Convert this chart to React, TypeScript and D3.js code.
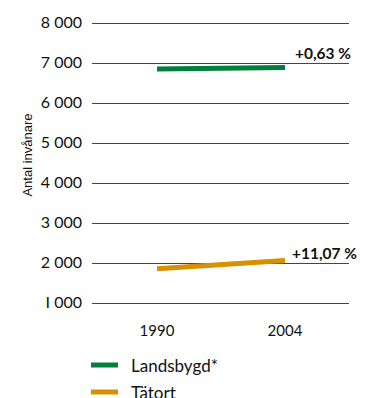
import { useEffect, useRef } from 'react'
import * as d3 from 'd3'

const years = ['1990', '2004']
const landsbygd = [6860, 6903]
const tatort = [1868, 2075]
const changeLabels = ['+0,63 %', '+11,07 %']
const seriesNames = ['Landsbygd*', 'Tätort']
const yTicks = [1000, 2000, 3000, 4000, 5000, 6000, 7000, 8000]

const COLORS = ['#00803d', '#d69000']

export default function App() {
  const svgRef = useRef<SVGSVGElement>(null)

  useEffect(() => {
    if (!svgRef.current) return
    const width = 369
    const height = 398
    const svg = d3.select(svgRef.current)
    svg.selectAll('*').remove()

    const x = d3.scalePoint<string>().domain(years).range([157, 285])
    const y = d3.scaleLinear().domain([1000, 8000]).range([303.5, 23.5])
    const gridLeft = 92
    const gridRight = 349
    const tickFont = "'Lato', 'DejaVu Sans', sans-serif"

    // gridlines
    svg.append('g')
      .selectAll('line')
      .data(yTicks)
      .join('line')
      .attr('x1', gridLeft)
      .attr('x2', gridRight)
      .attr('y1', (d) => y(d))
      .attr('y2', (d) => y(d))
      .attr('stroke', '#444')
      .attr('stroke-width', 1)

    // y tick labels (thousands split by a space, "1" drawn as I like the original)
    const fmt = (v: number) => d3.format(',')(v).replace(',', ' ').replace(/^1 /, 'I ')
    svg.append('g')
      .selectAll('text')
      .data(yTicks)
      .join('text')
      .attr('x', 82)
      .attr('y', (d) => y(d) + 4.5)
      .attr('text-anchor', 'end')
      .attr('font-family', tickFont)
      .attr('font-size', 16)
      .attr('fill', '#111')
      .text((d) => fmt(d))

    // y axis title
    svg.append('text')
      .attr('transform', 'translate(32,155) rotate(-90)')
      .attr('text-anchor', 'middle')
      .attr('font-family', "'Liberation Sans', Arial, sans-serif")
      .attr('font-size', 13)
      .attr('fill', '#111')
      .text('Antal invånare')

    // x labels
    svg.append('g')
      .selectAll('text')
      .data(years)
      .join('text')
      .attr('x', (d) => x(d) as number)
      .attr('y', 336)
      .attr('text-anchor', 'middle')
      .attr('font-family', tickFont)
      .attr('font-size', 15)
      .attr('fill', '#111')
      .text((d) => d)

    // series lines
    const line = d3.line<number>()
      .x((_, i) => x(years[i]) as number)
      .y((d) => y(d))
    const series = [landsbygd, tatort]
    series.forEach((vals, i) => {
      svg.append('path')
        .datum(vals)
        .attr('d', line)
        .attr('fill', 'none')
        .attr('stroke', COLORS[i])
        .attr('stroke-width', 5)
        .attr('stroke-linecap', 'butt')

      // change label sits just above the nearest gridline
      const anchor = Math.round(vals[1] / 1000) * 1000
      svg.append('text')
        .attr('x', (x(years[1]) as number) + (i === 0 ? 10 : 7))
        .attr('y', y(anchor) - 4.5)
        .attr('font-family', tickFont)
        .attr('font-size', 15.5)
        .attr('font-weight', 'bold')
        .attr('fill', '#111')
        .text(changeLabels[i])
    })

    // legend
    const legend = svg.append('g')
    seriesNames.forEach((name, i) => {
      const ly = 365 + i * 27
      legend.append('line')
        .attr('x1', 91)
        .attr('x2', 118)
        .attr('y1', ly)
        .attr('y2', ly)
        .attr('stroke', COLORS[i])
        .attr('stroke-width', 5)
      legend.append('text')
        .attr('x', 131)
        .attr('y', ly + 7)
        .attr('font-family', tickFont)
        .attr('font-size', 17)
        .attr('fill', '#111')
        .text(name)
    })

    svg.attr('width', width).attr('height', height)
  }, [])

  return (
    <svg
      ref={svgRef}
      width={369}
      height={398}
      style={{ position: 'absolute', left: 0, top: 0, background: '#fff' }}
    />
  )
}
